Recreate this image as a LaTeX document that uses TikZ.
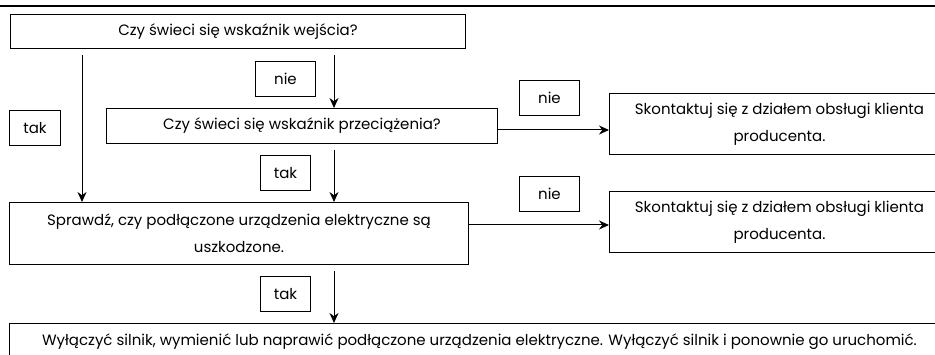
\documentclass[tikz,border=0pt]{standalone}
\usepackage{fontspec}
\setmainfont{Poppins}
\usetikzlibrary{arrows.meta}
\begin{document}
\begin{tikzpicture}[x=1pt,y=-1pt,
 box/.style={draw, line width=1pt, inner sep=0pt, anchor=north west, align=center, font=\fontsize{15}{27}\selectfont},
 lbl/.style={box, minimum width=60pt, minimum height=35pt},
 arr/.style={line width=1pt, -{Stealth[length=10pt,width=9pt]}}]
\useasboundingbox (0,0) rectangle (935,355);
\draw[line width=1.2pt] (0,6) -- (935,6);
\node[box, minimum width=455pt, minimum height=34pt] (b1) at (10,14) {Czy świeci się wskaźnik wejścia?};
\node[box, minimum width=391pt, minimum height=35pt] (b2) at (106,108) {Czy świeci się wskaźnik przeciążenia?};
\node[box, minimum width=459pt, minimum height=62pt] (b3) at (9,202) {Sprawdź, czy podłączone urządzenia elektryczne są\\uszkodzone.};
\node[box, minimum width=340pt, minimum height=61pt] (r1) at (609,93) {Skontaktuj się z działem obsługi klienta\\producenta.};
\node[box, minimum width=340pt, minimum height=61pt] (r2) at (609,191) {Skontaktuj się z działem obsługi klienta\\producenta.};
\node[box, minimum width=940pt, minimum height=36pt] (b4) at (9,323) {Wyłączyć silnik, wymienić lub naprawić podłączone urządzenia elektryczne. Wyłączyć silnik i ponownie go uruchomić.};
\node[lbl] (n1) at (255,61) {nie};
\node[lbl, minimum width=51pt] (t1) at (9,110) {tak};
\node[lbl] (n2) at (519,80) {nie};
\node[lbl, minimum width=50pt] (t2) at (260,155) {tak};
\node[lbl] (n3) at (519,176) {nie};
\node[lbl, minimum width=50pt] (t3) at (260,276) {tak};
\coordinate (c1) at (82,55);
\coordinate (c2) at (334,55);
\coordinate (c3) at (334,150);
\coordinate (c4) at (334,271);
\draw[arr] (c1) -- (c1 |- b3.north);
\draw[arr] (c2) -- (c2 |- b2.north);
\draw[arr] (c3) -- (c3 |- b3.north);
\draw[arr] (c4) -- (c4 |- b4.north);
\draw[arr] (b2.east |- 0,130) -- (r1.west |- 0,130);
\draw[arr] (b3.east |- 0,225) -- (r2.west |- 0,225);
\end{tikzpicture}
\end{document}
